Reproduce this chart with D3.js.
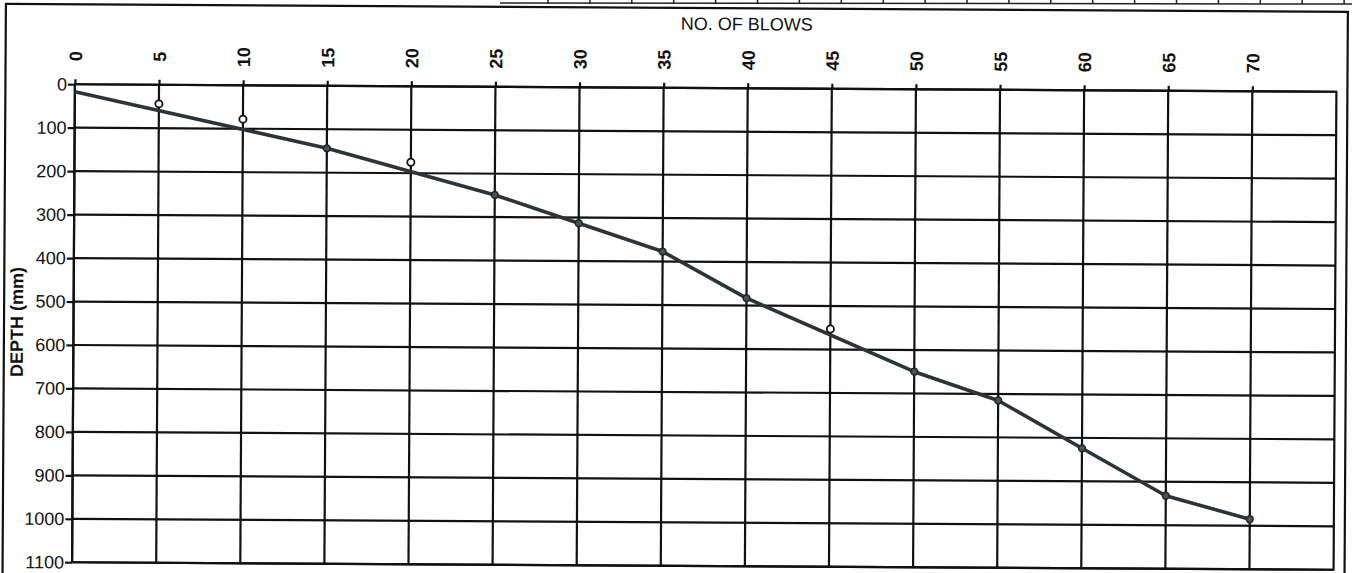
<!DOCTYPE html>
<html>
<head>
<meta charset="utf-8">
<script src="https://cdn.jsdelivr.net/npm/d3@7"></script>
<style>
  body { margin: 0; background: #fff; }
  svg { display: block; }
  svg text { font-family: "Liberation Sans", Arial, sans-serif; }
</style>
</head>
<body>
<svg id="chart"></svg>
<script>
// x axis ticks (no. of blows) and y axis ticks (depth, mm)
const blowTicks = [0, 5, 10, 15, 20, 25, 30, 35, 40, 45, 50, 55, 60, 65, 70];
const depthTicks = [0, 100, 200, 300, 400, 500, 600, 700, 800, 900, 1000, 1100];

// fitted line (filled markers sit on it, except the start point)
const lineBlows = [0, 15, 25, 30, 35, 40, 50, 55, 60, 65, 70];
const lineDepth = [17, 144, 249, 313, 377, 483, 650, 715, 824, 932, 985];

// readings that fall off the line (open markers)
const openBlows = [5, 10, 20, 45];
const openDepth = [44, 78, 175, 553];

const W = 1352, H = 573;
const margin = {left: 73.5, top: 88, right: 17, bottom: 7};
const width = W - margin.left - margin.right;
const height = H - margin.top - margin.bottom;

const svg = d3.select('#chart').attr('width', W).attr('height', H);

// strip of cells from the table above (cut off by the page edge)
const strip = svg.append('g').attr('stroke', '#222').attr('stroke-width', 1.5);
strip.append('line').attr('x1', 500).attr('x2', W).attr('y1', 3).attr('y2', 4);
d3.range(548, W, 41.9).forEach(function(px) {
  strip.append('line').attr('x1', px).attr('x2', px).attr('y1', 0).attr('y2', 4);
});

// the scanned sheet sits a little skewed
const page = svg.append('g').attr('transform', 'rotate(0.34,705,327)');

page.append('rect')
    .attr('x', 4).attr('y', 8)
    .attr('width', 1342).attr('height', 590)
    .attr('fill', 'none').attr('stroke', '#111').attr('stroke-width', 2.2);

const xScale = d3.scaleLinear().domain([0, 75]).range([0, width]);
const yScale = d3.scaleLinear().domain([0, 1100]).range([0, height]);

const chart = page.append('g')
    .attr('transform', `translate(${margin.left},${margin.top})`);

// grid
chart.append('g').selectAll('line').data(blowTicks).join('line')
    .attr('x1', d => xScale(d)).attr('x2', d => xScale(d))
    .attr('y1', 0).attr('y2', height)
    .attr('stroke', '#111').attr('stroke-width', 2.2);
chart.append('g').selectAll('line').data(depthTicks).join('line')
    .attr('x1', 0).attr('x2', width)
    .attr('y1', d => yScale(d)).attr('y2', d => yScale(d))
    .attr('stroke', '#111').attr('stroke-width', 2.2);
chart.append('rect')
    .attr('width', width).attr('height', height)
    .attr('fill', 'none').attr('stroke', '#111').attr('stroke-width', 2.2);

// axes
const yAxis = chart.append('g')
    .call(d3.axisLeft(yScale).tickValues(depthTicks).tickFormat(d3.format('d'))
      .tickSize(7).tickSizeOuter(0).tickPadding(1));
yAxis.select('.domain').remove();
yAxis.selectAll('line').attr('stroke', '#111').attr('stroke-width', 2.2);
yAxis.selectAll('text')
    .attr('fill', '#111').style('font-size', '18px');

const xAxis = chart.append('g')
    .call(d3.axisTop(xScale).tickValues(blowTicks).tickSize(5).tickSizeOuter(0));
xAxis.select('.domain').remove();
xAxis.selectAll('line').attr('stroke', '#111').attr('stroke-width', 2.2);
xAxis.selectAll('text')
    .attr('x', 0).attr('y', 0).attr('dy', '0.35em')
    .attr('transform', 'translate(0,-28) rotate(-90)')
    .attr('text-anchor', 'middle')
    .attr('fill', '#111')
    .style('font-size', '18px').style('font-weight', 'bold');

// axis titles
page.append('text')
    .attr('x', 745).attr('y', 30)
    .attr('text-anchor', 'middle')
    .attr('fill', '#111')
    .style('font-size', '18px')
    .text('NO. OF BLOWS');

page.append('text')
    .attr('transform', 'translate(23,326) rotate(-90)')
    .attr('text-anchor', 'middle')
    .attr('fill', '#111')
    .style('font-size', '18px').style('font-weight', 'bold')
    .text('DEPTH (mm)');

// line and markers
const pts = lineBlows.map((b, i) => ({b: b, d: lineDepth[i]}));
const line = d3.line().x(p => xScale(p.b)).y(p => yScale(p.d));

chart.append('path')
    .datum(pts)
    .attr('d', line)
    .attr('fill', 'none')
    .attr('stroke', '#2b3539')
    .attr('stroke-width', 3.6)
    .attr('stroke-linejoin', 'round');

chart.append('g').selectAll('circle').data(pts.filter(p => p.b > 0)).join('circle')
    .attr('cx', p => xScale(p.b)).attr('cy', p => yScale(p.d))
    .attr('r', 3.4)
    .attr('fill', '#4a5256').attr('stroke', '#1e2528').attr('stroke-width', 1.5);

chart.append('g').selectAll('circle').data(openBlows.map((b, i) => ({b: b, d: openDepth[i]}))).join('circle')
    .attr('cx', p => xScale(p.b)).attr('cy', p => yScale(p.d))
    .attr('r', 3.6)
    .attr('fill', '#fff').attr('stroke', '#111').attr('stroke-width', 1.8);
</script>
</body>
</html>
